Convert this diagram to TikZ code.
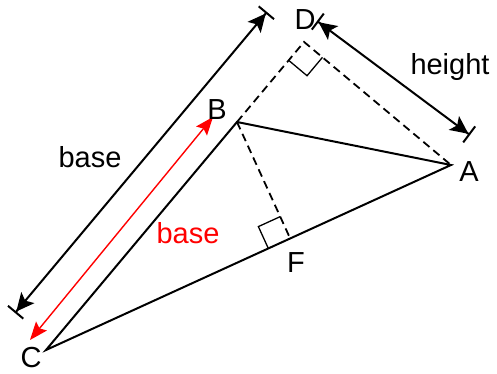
\documentclass[tikz,border=0pt]{standalone}
\usepackage{fontspec}
\setmainfont{Liberation Sans}
\usetikzlibrary{arrows.meta, calc}
\tikzset{
  side/.style={line width=2pt, line cap=round},
  hidden/.style={line width=1.8pt, dash pattern=on 8pt off 5pt},
  rightangle/.style={line width=1.3pt},
  dimline/.style={line width=2pt, {Bar[width=20pt,line width=2pt]Stealth[length=18pt,width=17pt,inset=4pt]}-{Stealth[length=18pt,width=17pt,inset=4pt]Bar[width=20pt,line width=2pt]}},
  dimred/.style={red, line width=1.4pt, {Stealth[length=18pt,width=14pt,inset=3pt]}-{Stealth[length=18pt,width=14pt,inset=3pt]}},
  lbl/.style={font=\fontsize{29}{33}\selectfont, inner sep=0pt}
}

\begin{document}
\begin{tikzpicture}[x=1pt, y=-1pt]
    \useasboundingbox (0,0) rectangle (497,374);

    % Vertices
    \coordinate (C) at (46,350);
    \coordinate (B) at (237,122);
    \coordinate (A) at (451,165);
    \coordinate (F) at ($(C)!(B)!(A)$);
    \coordinate (D) at ($(C)!(A)!(B)$);

    % Triangle
    \draw[side] (C) -- (B) -- (A) -- cycle;

    % Heights (dashed)
    \draw[hidden] (B) -- (D) -- (A);
    \draw[hidden] (B) -- (F);

    % Right angle marks
    \coordinate (Db) at ($(D)!24pt!(B)$);
    \coordinate (Da) at ($(D)!24pt!(A)$);
    \draw[rightangle] (Db) -- ($(Db)+(Da)-(D)$) -- (Da);
    \coordinate (Fc) at ($(F)!24pt!(C)$);
    \coordinate (Fb) at ($(F)!24pt!(B)$);
    \draw[rightangle] (Fc) -- ($(Fc)+(Fb)-(F)$) -- (Fb);

    % Dimension lines
    \coordinate (base1) at (15,313);
    \coordinate (base2) at (267,12);
    \draw[dimline] (base1) -- (base2);
    \coordinate (height1) at (317,21);
    \coordinate (height2) at (470,135);
    \draw[dimline] (height1) -- (height2);
    \coordinate (red1) at (30,340);
    \coordinate (red2) at (213,117);
    \draw[dimred] (red1) -- (red2);

    % Labels
    \foreach \p/\x/\y in {A/469/172, B/217/110, C/31/358, D/305/20, F/296/263}
        \node[lbl] (lbl\p) at (\x,\y) {\p};
    \node[lbl] (lblbase) at (90,157) {base};
    \node[lbl] (lblheight) at (450,67) {height};
    \node[lbl, red] (lblred) at (188,233) {base};
\end{tikzpicture}
\end{document}
